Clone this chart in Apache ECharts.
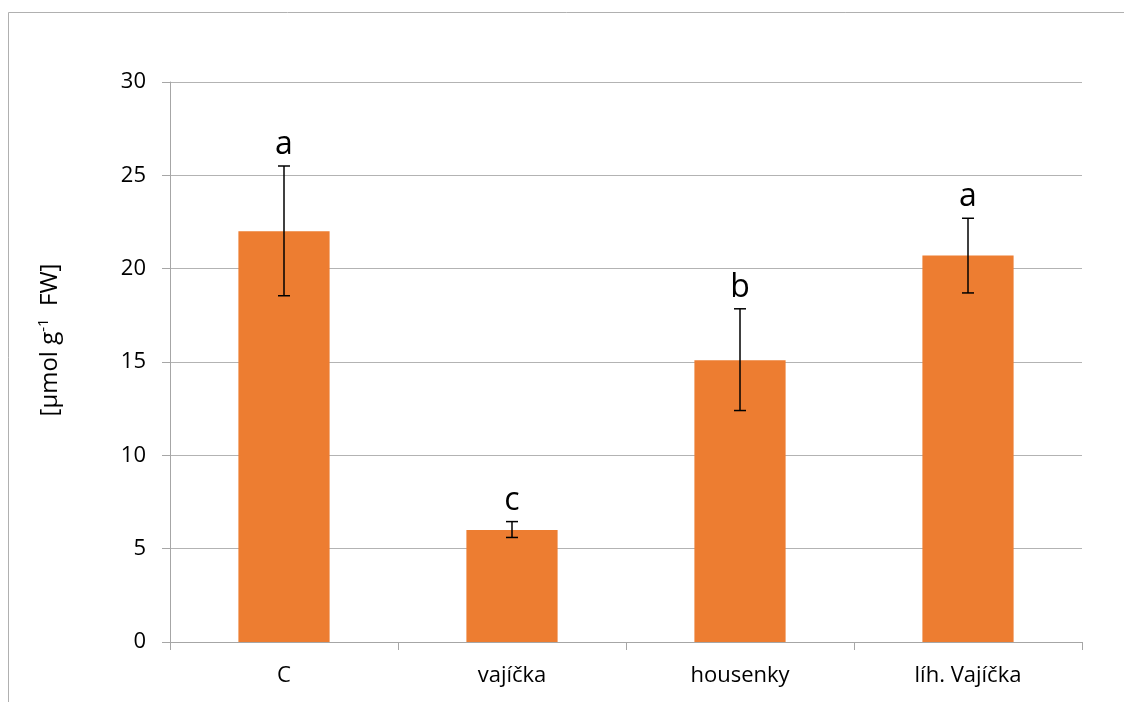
<!DOCTYPE html>
<html>
<head>
<meta charset="utf-8">
<script src="https://cdn.jsdelivr.net/npm/echarts@6/dist/echarts.min.js"></script>
<style>
  html, body { margin: 0; padding: 0; background: #fff; }
  #chart { width: 1124px; height: 702px; }
</style>
</head>
<body>
<div id="chart"></div>
<script>
// Treatments and measured means
const categories = ['C', 'vajíčka', 'housenky', 'líh. Vajíčka'];
const means = [22.0, 6.0, 15.1, 20.7];
// Error bar extents (lower, upper)
const errLow = [18.55, 5.6, 12.4, 18.7];
const errHigh = [25.5, 6.45, 17.85, 22.7];
// Significance group letters
const groups = ['a', 'c', 'b', 'a'];
// Value axis ticks
const yTicks = [0, 5, 10, 15, 20, 25, 30];

const FONT = 'Open Sans';
const axisGray = '#a6a6a6';

const chart = echarts.init(document.getElementById('chart'), null, { renderer: 'canvas' });

const errData = categories.map((c, i) => [i, errLow[i], errHigh[i], groups[i]]);

chart.setOption({
  animation: false,
  backgroundColor: '#ffffff',
  grid: { left: 170, right: 42, top: 82, bottom: 60 },
  xAxis: {
    type: 'category',
    data: categories,
    axisLine: { lineStyle: { color: axisGray, width: 1 } },
    axisTick: { show: true, length: 8, alignWithLabel: false, lineStyle: { color: axisGray } },
    axisLabel: { color: '#000', fontFamily: FONT, fontSize: 22, margin: 23 }
  },
  yAxis: {
    type: 'value',
    min: yTicks[0],
    max: yTicks[yTicks.length - 1],
    interval: yTicks[1] - yTicks[0],
    axisLine: { show: true, lineStyle: { color: axisGray, width: 1 } },
    axisTick: { show: true, length: 8, lineStyle: { color: axisGray } },
    axisLabel: { color: '#000', fontFamily: FONT, fontSize: 22, margin: 24 },
    splitLine: { show: true, lineStyle: { color: '#b3b3b3', width: 1 } }
  },
  graphic: [
    {
      type: 'polyline',
      shape: { points: [[8.5, 702], [8.5, 12.5], [1124, 12.5]] },
      style: { stroke: '#b0b0b0', lineWidth: 1, fill: null },
      silent: true
    },
    {
      type: 'text',
      x: 50,
      y: 340,
      rotation: Math.PI / 2,
      style: {
        text: '[µmol g{sup|-1}  FW]',
        fontFamily: FONT,
        fontSize: 24,
        fill: '#000',
        align: 'center',
        verticalAlign: 'middle',
        rich: {
          sup: { fontFamily: FONT, fontSize: 15, fill: '#000', verticalAlign: 'top', padding: [0, 0, 12, 0] }
        }
      },
      silent: true
    }
  ],
  series: [
    {
      type: 'bar',
      data: means,
      barWidth: '40%',
      itemStyle: { color: '#ED7D31' },
      z: 2
    },
    {
      type: 'custom',
      data: errData,
      z: 3,
      renderItem: function (params, api) {
        const i = api.value(0);
        const lo = api.coord([i, api.value(1)]);
        const hi = api.coord([i, api.value(2)]);
        const cap = 6;
        const style = { stroke: '#000', lineWidth: 1.5 };
        return {
          type: 'group',
          children: [
            { type: 'line', shape: { x1: hi[0], y1: hi[1], x2: lo[0], y2: lo[1] }, style: style },
            { type: 'line', shape: { x1: hi[0] - cap, y1: hi[1], x2: hi[0] + cap, y2: hi[1] }, style: style },
            { type: 'line', shape: { x1: lo[0] - cap, y1: lo[1], x2: lo[0] + cap, y2: lo[1] }, style: style },
            {
              type: 'text',
              x: hi[0],
              y: hi[1] - 5,
              style: {
                text: groups[params.dataIndex],
                fontFamily: FONT,
                fontSize: 32,
                fill: '#000',
                align: 'center',
                verticalAlign: 'bottom'
              }
            }
          ]
        };
      }
    }
  ]
});
</script>
</body>
</html>
